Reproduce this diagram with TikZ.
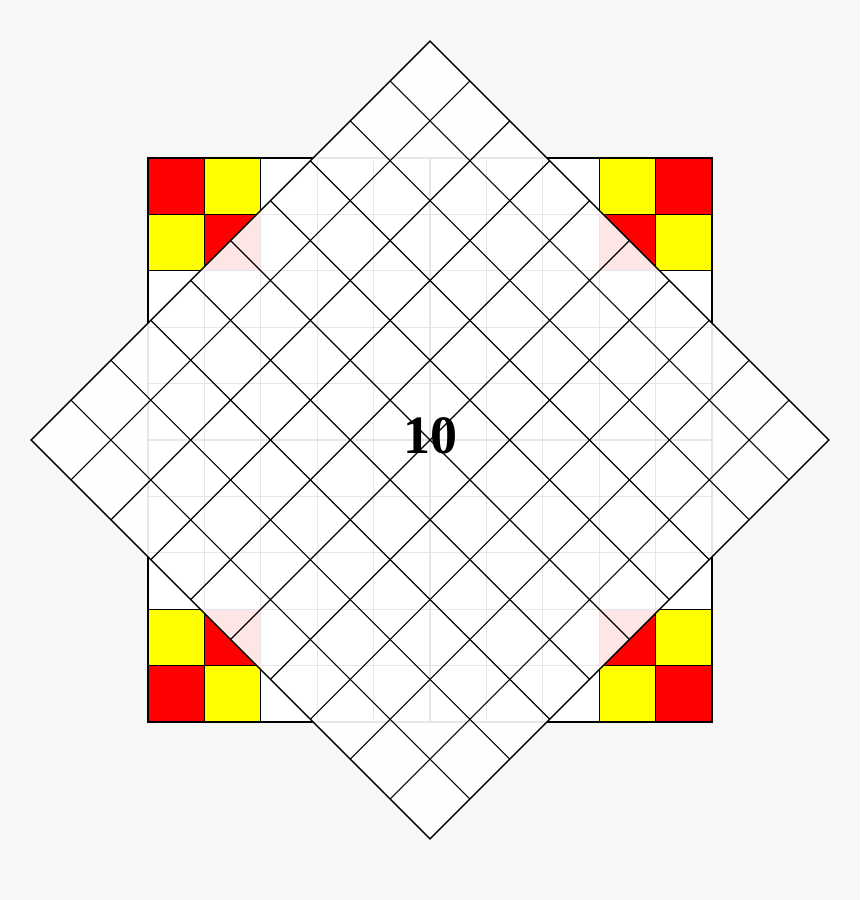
\documentclass[tikz,border=0pt]{standalone}
\usepackage{fontspec}
\setmainfont{Liberation Serif}
\definecolor{bggray}{RGB}{247,247,247}
\definecolor{cred}{RGB}{255,0,0}
\definecolor{cyel}{RGB}{255,255,0}
\tikzset{
  cellred/.style={fill=cred,draw=black,line width=1.2pt},
  cellyellow/.style={fill=cyel,draw=black,line width=1.2pt},
  gridline/.style={draw=black,line width=1.1pt},
  veil/.style={fill=white,fill opacity=0.9},
  label/.style={font=\fontsize{54}{60}\selectfont\bfseries,inner sep=0pt}
}
\begin{document}
\begin{tikzpicture}[x=1pt,y=-1pt]
\fill[bggray] (0,0) rectangle (860,900);
\useasboundingbox (0,0) rectangle (860,900);
\begin{scope}[shift={(148,158)},x=56.4pt,y=-56.4pt]
  % base square
  \fill[white] (0,0) rectangle (10,10);
  \foreach \i/\j in {0/0,1/1,8/1,9/0,1/8,0/9,8/8,9/9}
    \path[cellred] (\i,\j) rectangle +(1,1);
  \foreach \i/\j in {1/0,0/1,8/0,9/1,0/8,1/9,8/9,9/8}
    \path[cellyellow] (\i,\j) rectangle +(1,1);
  \begin{scope}
    \clip (5,-2.0711) -- (12.0711,5) -- (5,12.0711) -- (-2.0711,5) -- cycle;
    \foreach \k in {1,...,9} {
      \draw[gridline] (\k,0) -- (\k,10);
      \draw[gridline] (0,\k) -- (10,\k);
    }
  \end{scope}
  \draw[line width=1.4pt] (0,0) rectangle (10,10);
  % rotated square
  \begin{scope}[shift={(5,5)},rotate=45]
    \path[veil] (-5,-5) rectangle (5,5);
    \foreach \k in {-4,...,4} {
      \draw[gridline] (\k,-5) -- (\k,5);
      \draw[gridline] (-5,\k) -- (5,\k);
    }
    \draw[line width=1.4pt] (-5,-5) rectangle (5,5);
  \end{scope}
  \node[label] (num) at (5,4.93) {10};
\end{scope}
\end{tikzpicture}
\end{document}
